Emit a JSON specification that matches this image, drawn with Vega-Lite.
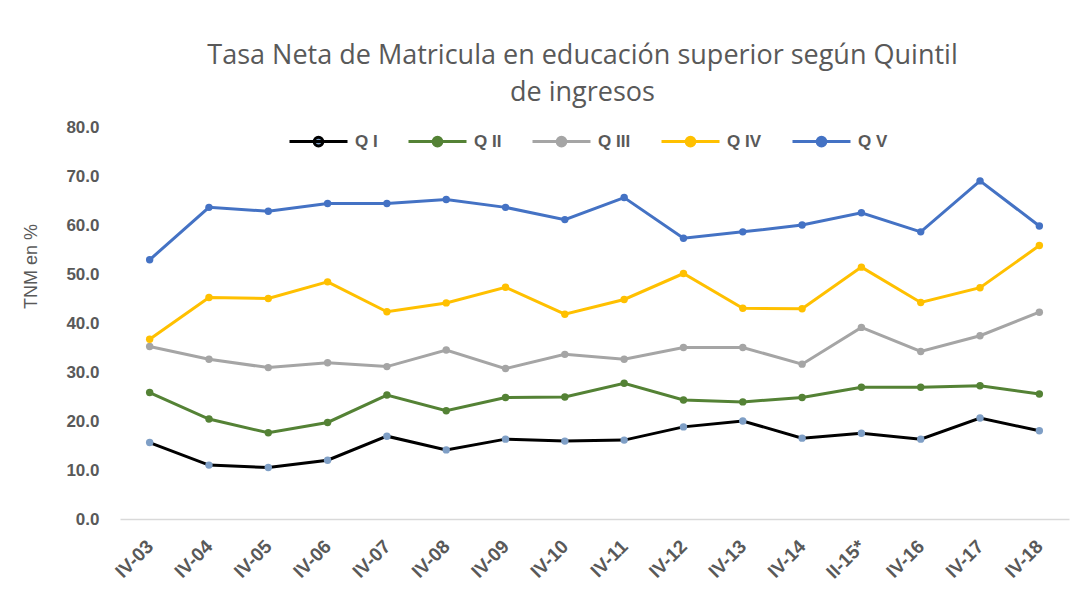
{
  "$schema": "https://vega.github.io/schema/vega-lite/v6.json",
  "autosize": "none",
  "width": 949,
  "height": 392,
  "padding": {"left": 120, "top": 127, "right": 1, "bottom": 87},
  "background": "white",
  "config": {
    "view": {"stroke": null},
    "font": "Liberation Sans",
    "legend": {
      "title": null,
      "orient": "none",
      "direction": "horizontal",
      "columns": 5,
      "legendX": 168,
      "legendY": -16,
      "padding": 0,
      "symbolType": "M-1,0H1M-0.15,0A0.15,0.15 0 1,0 0.15,0A0.15,0.15 0 1,0 -0.15,0",
      "symbolSize": 3364,
      "symbolStrokeWidth": 3,
      "labelFontSize": 17,
      "labelFontWeight": "bold",
      "labelColor": "#595959",
      "labelOffset": 6,
      "columnPadding": 24
    }
  },
  "title": {
    "text": ["Tasa Neta de Matricula en educación superior según Quintil", "de ingresos"],
    "fontSize": 27,
    "fontWeight": "normal",
    "color": "#595959",
    "font": "Open Sans",
    "anchor": "middle",
    "dx": -12,
    "lineHeight": 37,
    "offset": 4
  },
  "data": {
    "values": [
      {"p": "IV-03", "q": "Q I", "v": 15.6}, {"p": "IV-04", "q": "Q I", "v": 11.0}, {"p": "IV-05", "q": "Q I", "v": 10.5}, {"p": "IV-06", "q": "Q I", "v": 12.0},
      {"p": "IV-07", "q": "Q I", "v": 16.9}, {"p": "IV-08", "q": "Q I", "v": 14.1}, {"p": "IV-09", "q": "Q I", "v": 16.3}, {"p": "IV-10", "q": "Q I", "v": 15.9},
      {"p": "IV-11", "q": "Q I", "v": 16.1}, {"p": "IV-12", "q": "Q I", "v": 18.8}, {"p": "IV-13", "q": "Q I", "v": 20.0}, {"p": "IV-14", "q": "Q I", "v": 16.5},
      {"p": "II-15*", "q": "Q I", "v": 17.5}, {"p": "IV-16", "q": "Q I", "v": 16.3}, {"p": "IV-17", "q": "Q I", "v": 20.6}, {"p": "IV-18", "q": "Q I", "v": 18.0},

      {"p": "IV-03", "q": "Q II", "v": 25.8}, {"p": "IV-04", "q": "Q II", "v": 20.4}, {"p": "IV-05", "q": "Q II", "v": 17.6}, {"p": "IV-06", "q": "Q II", "v": 19.7},
      {"p": "IV-07", "q": "Q II", "v": 25.3}, {"p": "IV-08", "q": "Q II", "v": 22.1}, {"p": "IV-09", "q": "Q II", "v": 24.8}, {"p": "IV-10", "q": "Q II", "v": 24.9},
      {"p": "IV-11", "q": "Q II", "v": 27.7}, {"p": "IV-12", "q": "Q II", "v": 24.3}, {"p": "IV-13", "q": "Q II", "v": 23.9}, {"p": "IV-14", "q": "Q II", "v": 24.8},
      {"p": "II-15*", "q": "Q II", "v": 26.9}, {"p": "IV-16", "q": "Q II", "v": 26.9}, {"p": "IV-17", "q": "Q II", "v": 27.2}, {"p": "IV-18", "q": "Q II", "v": 25.5},

      {"p": "IV-03", "q": "Q III", "v": 35.2}, {"p": "IV-04", "q": "Q III", "v": 32.6}, {"p": "IV-05", "q": "Q III", "v": 30.9}, {"p": "IV-06", "q": "Q III", "v": 31.9},
      {"p": "IV-07", "q": "Q III", "v": 31.1}, {"p": "IV-08", "q": "Q III", "v": 34.5}, {"p": "IV-09", "q": "Q III", "v": 30.7}, {"p": "IV-10", "q": "Q III", "v": 33.6},
      {"p": "IV-11", "q": "Q III", "v": 32.6}, {"p": "IV-12", "q": "Q III", "v": 35.0}, {"p": "IV-13", "q": "Q III", "v": 35.0}, {"p": "IV-14", "q": "Q III", "v": 31.6},
      {"p": "II-15*", "q": "Q III", "v": 39.1}, {"p": "IV-16", "q": "Q III", "v": 34.2}, {"p": "IV-17", "q": "Q III", "v": 37.4}, {"p": "IV-18", "q": "Q III", "v": 42.2},

      {"p": "IV-03", "q": "Q IV", "v": 36.7}, {"p": "IV-04", "q": "Q IV", "v": 45.2}, {"p": "IV-05", "q": "Q IV", "v": 45.0}, {"p": "IV-06", "q": "Q IV", "v": 48.4},
      {"p": "IV-07", "q": "Q IV", "v": 42.3}, {"p": "IV-08", "q": "Q IV", "v": 44.1}, {"p": "IV-09", "q": "Q IV", "v": 47.3}, {"p": "IV-10", "q": "Q IV", "v": 41.8},
      {"p": "IV-11", "q": "Q IV", "v": 44.8}, {"p": "IV-12", "q": "Q IV", "v": 50.1}, {"p": "IV-13", "q": "Q IV", "v": 43.0}, {"p": "IV-14", "q": "Q IV", "v": 42.9},
      {"p": "II-15*", "q": "Q IV", "v": 51.4}, {"p": "IV-16", "q": "Q IV", "v": 44.2}, {"p": "IV-17", "q": "Q IV", "v": 47.2}, {"p": "IV-18", "q": "Q IV", "v": 55.8},

      {"p": "IV-03", "q": "Q V", "v": 52.9}, {"p": "IV-04", "q": "Q V", "v": 63.6}, {"p": "IV-05", "q": "Q V", "v": 62.8}, {"p": "IV-06", "q": "Q V", "v": 64.4},
      {"p": "IV-07", "q": "Q V", "v": 64.4}, {"p": "IV-08", "q": "Q V", "v": 65.2}, {"p": "IV-09", "q": "Q V", "v": 63.6}, {"p": "IV-10", "q": "Q V", "v": 61.1},
      {"p": "IV-11", "q": "Q V", "v": 65.6}, {"p": "IV-12", "q": "Q V", "v": 57.3}, {"p": "IV-13", "q": "Q V", "v": 58.6}, {"p": "IV-14", "q": "Q V", "v": 60.0},
      {"p": "II-15*", "q": "Q V", "v": 62.5}, {"p": "IV-16", "q": "Q V", "v": 58.6}, {"p": "IV-17", "q": "Q V", "v": 69.0}, {"p": "IV-18", "q": "Q V", "v": 59.8}
    ]
  },
  "encoding": {
    "x": {
      "field": "p",
      "type": "ordinal",
      "sort": null,
      "scale": {"type": "point", "padding": 0.5},
      "axis": {
        "title": null,
        "labelAngle": -45,
        "labelAlign": "right",
        "labelBaseline": "middle",
        "labelFontSize": 19,
        "labelFontWeight": "bold",
        "labelColor": "#595959",
        "labelPadding": 24,
        "ticks": false,
        "domainColor": "#d9d9d9",
        "domainWidth": 1.5,
        "grid": false
      }
    },
    "y": {
      "field": "v",
      "type": "quantitative",
      "scale": {"domain": [0, 80], "nice": false},
      "axis": {
        "title": "TNM en %",
        "titleFontSize": 18,
        "titleFontWeight": "normal",
        "titleColor": "#595959",
        "titlePadding": 25,
        "titleY": 139,
        "values": [0, 10, 20, 30, 40, 50, 60, 70, 80],
        "format": ".1f",
        "labelFontSize": 17,
        "labelFontWeight": "bold",
        "labelColor": "#595959",
        "labelPadding": 21,
        "ticks": false,
        "domain": false,
        "grid": false
      }
    }
  },
  "layer": [
    {
      "mark": {"type": "line", "strokeWidth": 3},
      "encoding": {
        "stroke": {
          "field": "q",
          "type": "nominal",
          "scale": {"domain": ["Q I", "Q II", "Q III", "Q IV", "Q V"], "range": ["#000000", "#548235", "#a5a5a5", "#ffc000", "#4472c4"]}
        }
      }
    },
    {
      "mark": {"type": "point", "filled": true, "size": 55, "opacity": 1},
      "encoding": {
        "fill": {
          "field": "q",
          "type": "nominal",
          "scale": {"domain": ["Q I", "Q II", "Q III", "Q IV", "Q V"], "range": ["#7f9fc6", "#548235", "#a5a5a5", "#ffc000", "#4472c4"]}
        }
      }
    }
  ]
}
